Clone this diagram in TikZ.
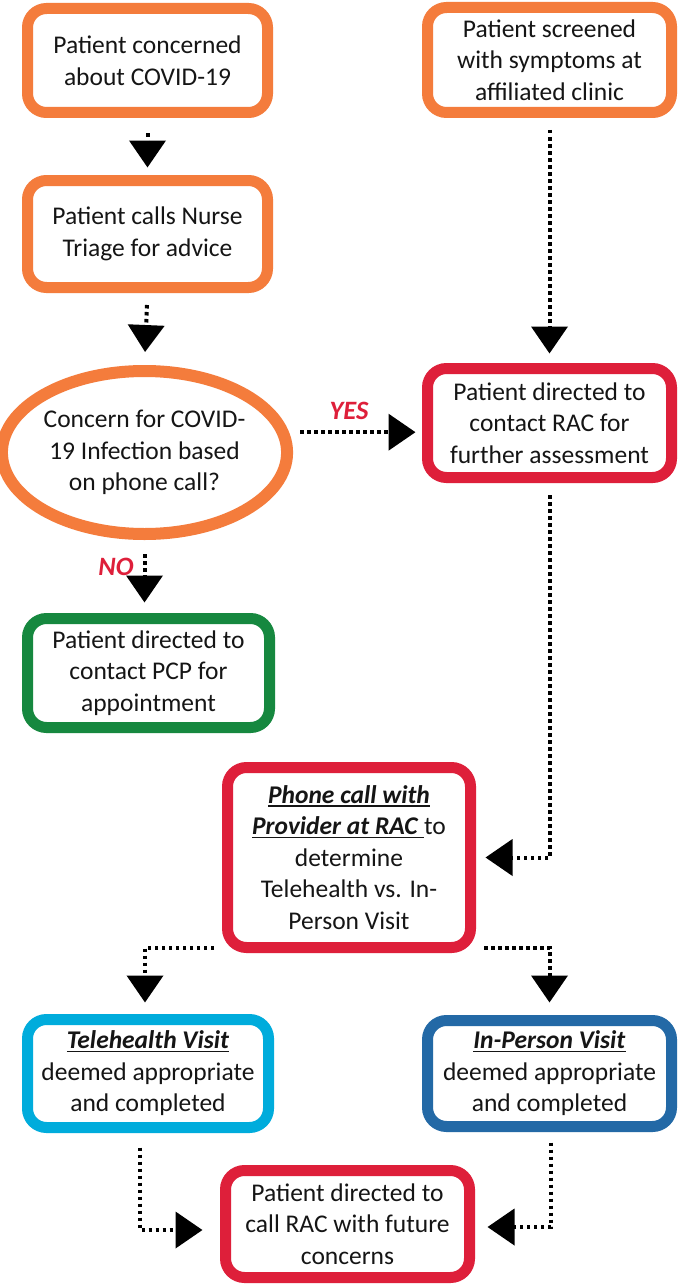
\documentclass[tikz,border=0pt]{standalone}
\usepackage{fontspec}
\setmainfont{Carlito}
\newcommand\myul[1]{\leavevmode\setbox0\hbox{#1}\rlap{\rule[-3.5pt]{\wd0}{1.7pt}}\box0}
\usetikzlibrary{arrows.meta,shapes.geometric,calc}
\definecolor{corange}{HTML}{F47C3C}
\definecolor{cred}{HTML}{DE1F3A}
\definecolor{cgreen}{HTML}{16883F}
\definecolor{ccyan}{HTML}{00ACDC}
\definecolor{cblue}{HTML}{2369A6}
\definecolor{txt}{HTML}{151515}
\begin{document}
\begin{tikzpicture}[x=1pt,y=-1pt,
  box/.style={draw, line width=11pt, rounded corners=19pt, fill=white, align=center,
    inner sep=0pt, text=txt, font=\fontsize{25.5}{31.5}\selectfont},
  oval/.style={ellipse, draw, line width=12pt, fill=white, align=center,
    inner sep=0pt, text=txt, font=\fontsize{25.5}{31.5}\selectfont},
  arr/.style={draw=black, line width=4pt, dash pattern=on 3.5pt off 3.5pt,
    -{Triangle[width=36pt,length=27pt]}},
  lbl/.style={text=cred, font=\fontsize{26.5}{30}\selectfont\bfseries\itshape}]
\fill[white] (0,0) rectangle (680,1287);
\useasboundingbox (0,0) rectangle (680,1287);

\node[box, draw=corange, minimum width=240pt, minimum height=104pt] (n1) at (147.5,60.5)
  {Patient concerned\\about COVID-19};
\node[box, draw=corange, minimum width=240pt, minimum height=107pt] (n2) at (147.5,234)
  {Patient calls Nurse\\Triage for advice};
\node[box, draw=corange, minimum width=244pt, minimum height=105pt] (n3) at (549.5,60)
  {Patient screened\\with symptoms at\\affiliated clinic};
\node[oval, draw=corange, minimum width=269pt, minimum height=163pt] (ell) at (144.5,452.5)
  {Concern for COVID-\\19 Infection based\\on phone call?};
\node[box, draw=cred, minimum width=244pt, minimum height=109pt] (rac) at (549.5,423)
  {Patient directed to\\contact RAC for\\further assessment};
\node[box, draw=cgreen, minimum width=242pt, minimum height=109pt] (pcp) at (148.5,673)
  {Patient directed to\\contact PCP for\\appointment};
\node[box, draw=cred, minimum width=243pt, minimum height=180pt] (phone) at (349,857.5)
  {\myul{\textbf{\textit{Phone call with}}}\\\myul{\textbf{\textit{Provider at RAC }}}to\\determine\\Telehealth vs. In-\\Person Visit};
\node[box, draw=ccyan, minimum width=241pt, minimum height=108pt] (tele) at (148,1073.5)
  {\myul{\textbf{\textit{Telehealth Visit}}}\\deemed appropriate\\and completed};
\node[box, draw=cblue, minimum width=244pt, minimum height=106pt] (inp) at (549.5,1073.5)
  {\myul{\textbf{\textit{In-Person Visit}}}\\deemed appropriate\\and completed};
\node[box, draw=cred, minimum width=244pt, minimum height=107pt] (bot) at (347.5,1224)
  {Patient directed to\\call RAC with future\\concerns};

\coordinate (pl) at ([yshift=5.5pt]phone.south west);
\coordinate (pr) at ([yshift=5.5pt]phone.south east);
\coordinate (tl) at ([xshift=-8pt]tele.south);
\coordinate (bl) at ([yshift=-6pt]bot.west);
\coordinate (br) at ([yshift=-3pt]bot.east);

\draw[arr, shorten <=15.5pt, shorten >=7.5pt] (n1.south) -- (n2.north);
\draw[arr, shorten <=12pt, shorten >=13pt] (n2.south) -- (ell.south |- ell.north);
\draw[arr, shorten <=12pt, shorten >=9.5pt] (n3.south) -- (rac.north);
\draw[arr, shorten <=11pt, shorten >=6.5pt] (ell.8.5) -- (ell.8.5 -| rac.west);
\draw[arr, shorten <=14pt, shorten >=10.5pt] (ell.south) -- (ell.south |- pcp.north);
\draw[arr, shorten <=12pt, shorten >=9.5pt] (rac.south) |- (phone.east);
\draw[arr, shorten <=8pt, shorten >=11.5pt] (pl) -| ([xshift=-3pt]tele.north);
\draw[arr, shorten <=8pt, shorten >=12.5pt] (pr) -| (inp.north);
\draw[arr, shorten <=14.5pt, shorten >=17.5pt] (tl) |- (bl);
\draw[arr, shorten <=10.5pt, shorten >=12.5pt] ([xshift=1pt]inp.south) |- (br);

\node[lbl] (yes) at (349,411) {YES};
\node[lbl] (no) at (116,567) {NO};
\end{tikzpicture}
\end{document}
